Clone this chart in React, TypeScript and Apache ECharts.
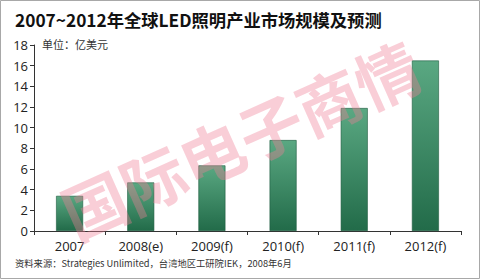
import React, { useEffect, useRef } from "react";
import * as echarts from "echarts";

const categories = ["2007", "2008(e)", "2009(f)", "2010(f)", "2011(f)", "2012(f)"];
const values = [3.4, 4.7, 6.35, 8.8, 11.9, 16.5];
const yTicks = { min: 0, max: 18, interval: 2 };
const titleText = "2007~2012年全球LED照明产业市场规模及预测";
const unitText = "单位：亿美元";
const sourceText = "资料来源：Strategies Unlimited，台湾地区工研院IEK，2008年6月";
const watermarkText = "国际电子商情";

export default function App() {
  const ref = useRef<HTMLDivElement>(null);
  useEffect(() => {
    if (!ref.current) return;
    const chart = echarts.init(ref.current, null, { renderer: "svg" });
    chart.setOption({
      animation: false,
      backgroundColor: "#ffffff",
      grid: { left: 34, right: 19, top: 45, bottom: 48, containLabel: false },
      xAxis: {
        type: "category",
        data: categories,
        boundaryGap: true,
        axisLine: { lineStyle: { color: "#333", width: 1 } },
        axisTick: { show: true, alignWithLabel: false, length: 4, lineStyle: { color: "#333" } },
        axisLabel: { color: "#222", fontSize: 13, fontFamily: "Open Sans, Noto Sans", margin: 8 },
      },
      yAxis: {
        type: "value",
        min: yTicks.min,
        max: yTicks.max,
        interval: yTicks.interval,
        axisLine: { show: true, lineStyle: { color: "#333", width: 1 } },
        axisTick: { show: true, length: 4, lineStyle: { color: "#333" } },
        splitLine: { show: false },
        axisLabel: { color: "#222", fontSize: 13, fontFamily: "Open Sans, Noto Sans", margin: 6 },
      },
      series: [
        {
          type: "bar",
          data: values,
          barWidth: 27,
          itemStyle: {
            color: new echarts.graphic.LinearGradient(0, 0, 0, 1, [
              { offset: 0, color: "#5aa882" },
              { offset: 1, color: "#226b49" },
            ]),
            borderColor: "#1d5a3e",
            borderWidth: 0.6,
          },
        },
      ],
      graphic: [
        {
          type: "rect",
          shape: { x: 0.5, y: 0.5, width: 479, height: 278 },
          style: { fill: "none", stroke: "#a8a8a8", lineWidth: 1 },
          silent: true,
        },
        {
          type: "text",
          left: 15,
          top: 11,
          style: {
            text: titleText,
            font: "bold 17.3px 'Noto Sans CJK SC'",
            fill: "#111",
          },
        },
        {
          type: "text",
          left: 42,
          top: 38,
          style: {
            text: unitText,
            font: "11px 'Noto Sans CJK SC'",
            fill: "#333",
          },
        },
        {
          type: "text",
          left: 15,
          top: 258,
          style: {
            text: sourceText,
            font: "9.3px 'Noto Sans CJK SC'",
            fill: "#333",
          },
        },
        {
          type: "text",
          x: 240,
          y: 138,
          rotation: (24 * Math.PI) / 180,
          z: 100,
          style: {
            text: watermarkText,
            font: "bold 64px 'Noto Sans CJK SC'",
            fill: "rgba(240, 125, 150, 0.38)",
            align: "center",
            verticalAlign: "middle",
          },
        },
      ],
    });
    return () => chart.dispose();
  }, []);
  return (
    <div
      ref={ref}
      style={{ position: "absolute", left: 0, top: 0, width: 480, height: 279 }}
    />
  );
}
